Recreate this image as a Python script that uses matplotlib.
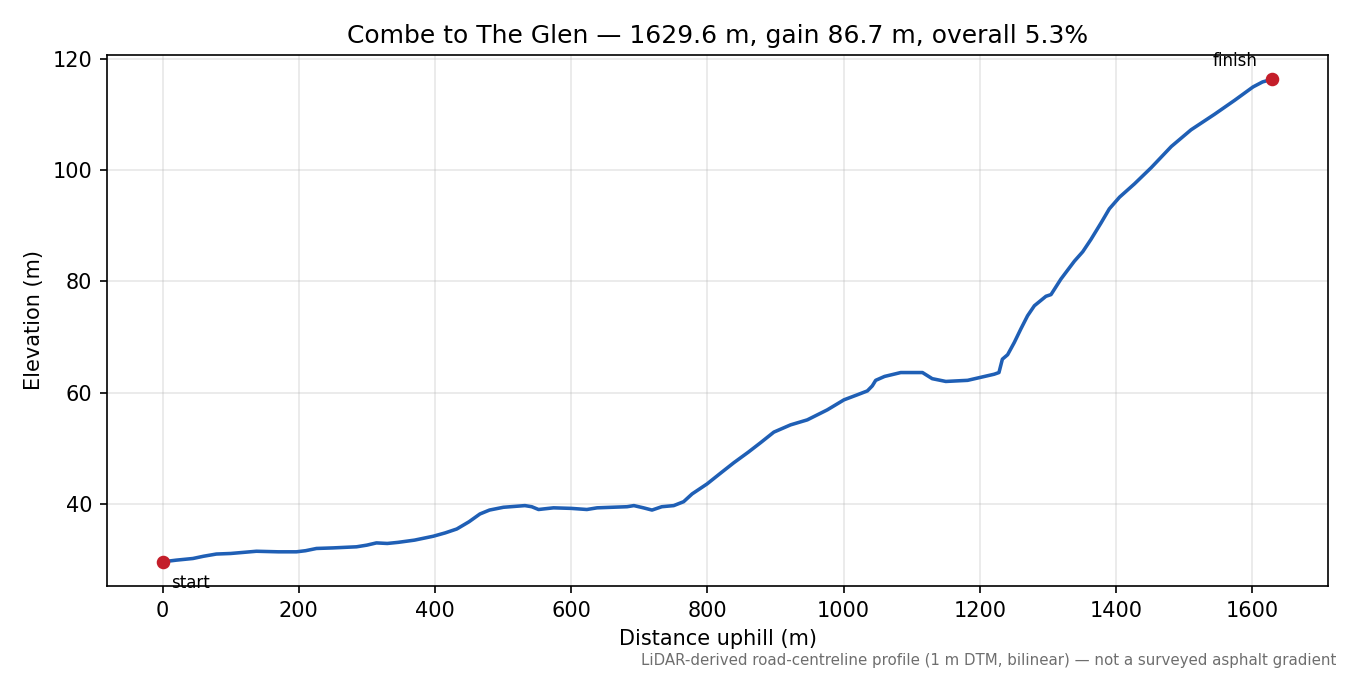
import matplotlib
matplotlib.use("Agg")
import matplotlib.pyplot as plt

distance = [0, 20, 44.6, 60, 79, 100, 137.8, 170, 196.6, 210, 226, 250, 284.8, 300, 314, 330,
            346, 370, 397.5, 415, 432, 450, 466, 480, 500.5,
            532, 542, 552, 574, 600, 623, 638, 660, 682, 692, 706, 718.6, 733, 750.5, 765,
            777.5, 799.5, 820, 838.7, 860, 878, 897.5, 922, 946.6, 976, 1000.5, 1020,
            1034.8, 1042, 1047, 1060, 1083.8, 1100,
            1115.7, 1130, 1150, 1182, 1221, 1228, 1233, 1240.7, 1250.5, 1260, 1270, 1280,
            1297, 1304.4, 1319, 1338.7, 1351, 1363, 1378, 1390, 1405, 1427, 1451.5,
            1481, 1510, 1544.6, 1574, 1601, 1615, 1629.6]
elevation = [29.6, 29.9, 30.2, 30.6, 31.0, 31.1, 31.5, 31.4, 31.4, 31.6, 32.0, 32.1, 32.3,
             32.6, 33.0, 32.9, 33.1, 33.5, 34.2, 34.8, 35.5, 36.8, 38.2, 38.9, 39.4,
             39.7, 39.5, 39.0, 39.3, 39.2, 39.0, 39.3, 39.4, 39.5, 39.7, 39.3, 38.9,
             39.5, 39.7, 40.4, 41.8, 43.6, 45.6, 47.4, 49.3, 51.0, 52.9, 54.2, 55.1,
             56.9, 58.7, 59.6, 60.3, 61.2, 62.2, 62.9, 63.6, 63.6,
             63.6, 62.5, 62.0, 62.2, 63.3, 63.6, 66.0, 66.8, 69.0, 71.4, 73.8, 75.6,
             77.3, 77.6, 80.4, 83.6, 85.3, 87.5, 90.5, 93.0, 95.1, 97.5, 100.4,
             104.2, 107.2, 110.0, 112.5, 114.9, 115.8, 116.3]

title = "Combe to The Glen \u2014 1629.6 m, gain 86.7 m, overall 5.3%"
note = "LiDAR-derived road-centreline profile (1 m DTM, bilinear) \u2014 not a surveyed asphalt gradient"

fig = plt.figure(figsize=(9, 4.5), dpi=150)
ax = fig.add_axes([0.0793, 0.1319, 0.9044, 0.7866])
ax.plot(distance, elevation, color="#1f5fb5", lw=1.7, zorder=3)
ax.plot([distance[0], distance[-1]], [elevation[0], elevation[-1]], "o",
        color="#c41e2a", ms=5.5, zorder=4)
ax.annotate("start", (distance[0], elevation[0]), xytext=(4, -10),
            textcoords="offset points", fontsize=8, va="center", ha="left")
ax.annotate("finish", (distance[-1], elevation[-1]), xytext=(-7, 8.5),
            textcoords="offset points", fontsize=8, va="center", ha="right")
ax.grid(True, color="#b0b0b0", alpha=0.3, lw=0.8)
ax.set_axisbelow(True)
ax.set_xlabel("Distance uphill (m)")
ax.set_ylabel("Elevation (m)")
ax.set_title(title, fontsize=12)
fig.text(0.9896, 0.0222, note, ha="right", va="center", fontsize=7.2, color="#6e6e6e")
fig.savefig("out.png", dpi=150)
